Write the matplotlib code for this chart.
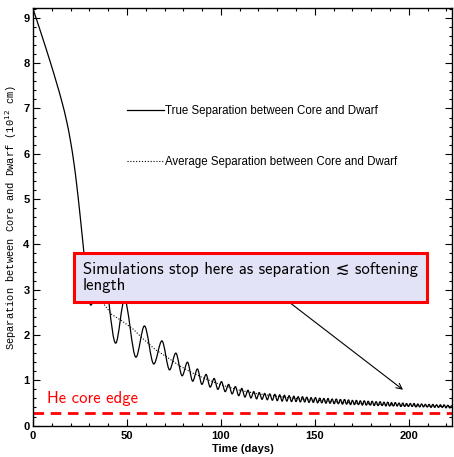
#!/usr/bin/env python3
# Separation between core and dwarf vs time

import numpy as np
import matplotlib
matplotlib.use("Agg")
import matplotlib.pyplot as plt
from matplotlib.path import Path
from matplotlib.patches import PathPatch
from matplotlib.lines import Line2D
from matplotlib.ticker import MultipleLocator


# Data (days, 1e12 cm)
# plunge before the first periastron
t_fall = [0.0, 2.0, 5.0, 9.0, 12.5, 15.5, 18.0, 20.0, 21.8, 23.3, 24.7, 26.0, 27.3, 28.6]
sep_fall = [9.20, 8.95, 8.57, 8.05, 7.57, 7.13, 6.70, 6.27, 5.79, 5.30, 4.78, 4.26, 3.74, 3.25]

# oscillation extrema, trough / peak alternating
t_osc = [30.7, 37.0, 44.0, 48.7, 54.8, 59.3, 64.3, 68.6, 72.7, 76.0,
         79.4, 82.2, 85.0, 87.5, 89.9, 92.1, 94.3, 96.4, 98.4, 100.3,
         102.3, 104.1, 106.0, 107.7, 109.5, 111.1, 112.8, 114.4, 116.0, 117.5,
         119.0, 120.4, 121.9, 123.3, 124.7, 126.0, 127.4, 128.7, 130.0, 131.3,
         132.6, 133.8, 135.1, 136.3, 137.6, 138.8, 140.0, 141.1, 142.3, 143.4,
         144.6, 145.7, 146.9, 148.0, 149.2, 150.3, 151.5, 152.6, 153.7, 154.8,
         155.9, 157.0, 158.1, 159.2, 160.3, 161.4, 162.5, 163.6, 164.7, 165.8,
         166.9, 167.9, 169.0, 170.0, 171.1, 172.1, 173.2, 174.2, 175.3, 176.3,
         177.4, 178.4, 179.5, 180.5, 181.6, 182.6, 183.7, 184.7, 185.8, 186.8,
         187.8, 188.8, 189.8, 190.8, 191.8, 192.8, 193.8, 194.8, 195.8, 196.8,
         197.8, 198.8, 199.8, 200.8, 201.8, 202.8, 203.8, 204.8, 205.8, 206.8,
         207.8, 208.8, 209.8, 210.8, 211.8, 212.8, 213.8, 214.8, 215.8, 216.8,
         217.8, 218.8, 219.8, 220.8, 221.8, 222.8]
sep_osc = [2.66, 3.55, 1.82, 2.78, 1.51, 2.20, 1.36, 1.87, 1.23, 1.60,
           1.10, 1.40, 0.98, 1.25, 0.91, 1.13, 0.85, 1.04, 0.80, 0.97,
           0.75, 0.91, 0.70, 0.86, 0.66, 0.82, 0.63, 0.78, 0.61, 0.75,
           0.59, 0.73, 0.58, 0.71, 0.57, 0.70, 0.56, 0.69, 0.55, 0.68,
           0.54, 0.67, 0.54, 0.66, 0.53, 0.65, 0.53, 0.64, 0.52, 0.64,
           0.52, 0.63, 0.51, 0.62, 0.51, 0.62, 0.50, 0.61, 0.50, 0.60,
           0.49, 0.60, 0.49, 0.59, 0.48, 0.59, 0.48, 0.58, 0.47, 0.58,
           0.47, 0.57, 0.46, 0.56, 0.46, 0.56, 0.46, 0.55, 0.45, 0.55,
           0.45, 0.54, 0.45, 0.54, 0.44, 0.53, 0.44, 0.53, 0.44, 0.52,
           0.43, 0.52, 0.43, 0.51, 0.43, 0.51, 0.43, 0.50, 0.42, 0.50,
           0.42, 0.49, 0.42, 0.49, 0.42, 0.49, 0.41, 0.48, 0.41, 0.48,
           0.41, 0.47, 0.41, 0.47, 0.40, 0.47, 0.40, 0.46, 0.40, 0.46,
           0.40, 0.46, 0.39, 0.45, 0.39, 0.45]

# orbit-averaged separation
t_avg = [37.0, 42.0, 47.0, 53.0, 59.0, 65.0, 71.0, 78.0, 85.0, 92.0,
         100.0, 110.0, 120.0, 135.0, 150.0, 170.0, 190.0, 210.0, 223.0]
sep_avg = [2.72, 2.45, 2.32, 2.14, 1.90, 1.68, 1.52, 1.32, 1.16, 1.03,
           0.90, 0.78, 0.70, 0.62, 0.56, 0.50, 0.46, 0.43, 0.42]

he_core_edge = 0.27

labels = ["True Separation between Core and Dwarf",
          "Average Separation between Core and Dwarf"]
note = "Simulations stop here as separation \u2272 softening\nlength"


def smooth_path(x, y):
    # piecewise cubic (monotone slopes) drawn as Bezier segments,
    # flat at the turning points
    x = np.asarray(x, float)
    y = np.asarray(y, float)
    h = np.diff(x)
    s = np.diff(y) / h
    m = np.zeros_like(y)
    m[0], m[-1] = s[0], s[-1]
    for i in range(1, len(x) - 1):
        if s[i - 1] * s[i] > 0:
            w1 = 2 * h[i] + h[i - 1]
            w2 = h[i] + 2 * h[i - 1]
            m[i] = (w1 + w2) / (w1 / s[i - 1] + w2 / s[i])
    verts = [(x[0], y[0])]
    codes = [Path.MOVETO]
    for i in range(len(x) - 1):
        d = h[i] / 3
        verts += [(x[i] + d, y[i] + m[i] * d),
                  (x[i + 1] - d, y[i + 1] - m[i + 1] * d),
                  (x[i + 1], y[i + 1])]
        codes += [Path.CURVE4] * 3
    return Path(verts, codes)


#################### PLOT ####################
fig = plt.figure(figsize=(4.54, 4.57), dpi=100)
ax = fig.add_axes([0.0727, 0.0687, 0.9229, 0.9131])

# True separation
t_true = t_fall + t_osc
sep_true = sep_fall + sep_osc
ax.add_patch(PathPatch(smooth_path(t_true, sep_true), fill=False,
                       edgecolor="black", lw=0.9, zorder=3))

# Average separation
avg_line, = ax.plot(t_avg, sep_avg, color="black", lw=0.8,
                    linestyle=(0, (1, 1.6)), zorder=3)

# He core edge
ax.axhline(he_core_edge, color="red", lw=2.0, dashes=(3.8, 2.4), zorder=2)
ax.text(0.034, 0.055, "He core edge", transform=ax.transAxes,
        color="red", fontsize=12, family=["cmss10", "DejaVu Sans"],
        va="baseline", ha="left")

# IDL style legend
true_handle = Line2D([], [], color="black", lw=0.9)
ax.legend([true_handle, avg_line], labels, loc="upper left",
          bbox_to_anchor=(0.224, 0.768), frameon=False,
          handlelength=3.2, handletextpad=0.15, labelspacing=3.35,
          borderpad=0, borderaxespad=0,
          prop={"family": "Liberation Sans", "size": 8.3})

# Annotation box and arrow
ax.annotate("", xy=(0.883, 0.086), xytext=(0.606, 0.30),
            xycoords="axes fraction", textcoords="axes fraction",
            arrowprops=dict(arrowstyle="->", color="black", lw=0.8,
                            shrinkA=0, shrinkB=0), zorder=4)
ax.text(0.1186, 0.392, note, transform=ax.transAxes,
        fontsize=12, family=["cmss10", "DejaVu Sans"],
        ha="left", va="top", linespacing=1.1, zorder=5,
        bbox=dict(boxstyle="square,pad=0.55", facecolor="#e3e3f8",
                  edgecolor="red", lw=2.2))

# Axes format
ax.set_xlim(0, 223)
ax.set_ylim(0, 9.21)
ax.xaxis.set_major_locator(MultipleLocator(50))
ax.xaxis.set_minor_locator(MultipleLocator(10))
ax.yaxis.set_major_locator(MultipleLocator(1))
ax.yaxis.set_minor_locator(MultipleLocator(0.2))
ax.tick_params(which="both", direction="in", top=True, right=True,
               width=0.8, labelsize=8)
ax.tick_params(which="major", length=5)
ax.tick_params(which="minor", length=2.5)
ax.tick_params(axis="x", pad=4)
ax.tick_params(axis="y", pad=2.5)
for lab in ax.get_xticklabels() + ax.get_yticklabels():
    lab.set_family("Liberation Sans")
    lab.set_fontweight("bold")
for sp in ax.spines.values():
    sp.set_linewidth(1.0)

ax.set_xlabel("Time (days)", family="Liberation Sans", fontweight="bold",
              fontsize=8, labelpad=2)
ax.set_ylabel("Separation between Core and Dwarf (10$^{12}$ cm)",
              family="Liberation Mono", fontsize=7.5, labelpad=3)

fig.savefig("out.png", dpi=100)

# end of file
